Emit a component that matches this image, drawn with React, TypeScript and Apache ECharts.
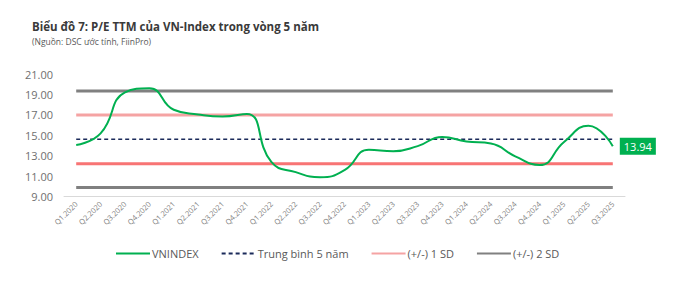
import React, { useEffect, useRef } from "react";
import * as echarts from "echarts";

const categories = [
  "Q1.2020", "Q2.2020", "Q3.2020", "Q4.2020",
  "Q1.2021", "Q2.2021", "Q3.2021", "Q4.2021",
  "Q1.2022", "Q2.2022", "Q3.2022", "Q4.2022",
  "Q1.2023", "Q2.2023", "Q3.2023", "Q4.2023",
  "Q1.2024", "Q2.2024", "Q3.2024", "Q4.2024",
  "Q1.2025", "Q2.2025", "Q3.2025",
];

const vnindex = [
  14.05, 15.2, 19.2, 19.6,
  17.5, 17.05, 16.85, 17.1,
  12.4, 11.4, 10.9, 11.6,
  13.6, 13.45, 13.95, 14.85,
  14.4, 14.2, 12.95, 12.1,
  14.35, 15.95, 13.94,
];

const MEAN_5Y = 14.62;
const SD1_UPPER = 17.0;
const SD1_LOWER = 12.23;
const SD2_UPPER = 19.33;
const SD2_LOWER = 9.9;

const yTicks = { min: 9, max: 21, interval: 2 };

const FONT = "'Open Sans', 'Noto Sans', sans-serif";

export default function App() {
  const ref = useRef<HTMLDivElement>(null);

  useEffect(() => {
    document.body.style.margin = "0";
    if (!ref.current) return;
    const chart = echarts.init(ref.current, undefined, { renderer: "svg" });
    const level = (v: number) => categories.map(() => v);

    chart.setOption({
      animation: false,
      backgroundColor: "#ffffff",
      textStyle: { fontFamily: FONT },
      title: {
        text: "Biểu đồ 7: P/E TTM của VN-Index trong vòng 5 năm",
        subtext: "(Nguồn: DSC ước tính, FiinPro)",
        left: 27,
        top: 15,
        itemGap: 5,
        textStyle: { fontFamily: FONT, fontSize: 11.5, fontWeight: "bold", color: "#3a3a3a" },
        subtextStyle: { fontFamily: FONT, fontSize: 8.5, color: "#595959" },
      },
      legend: {
        left: 110,
        top: 243,
        itemWidth: 34,
        itemHeight: 14,
        itemGap: 22,
        itemStyle: { opacity: 0 },
        data: ["VNINDEX", "Trung bình 5 năm", "(+/-) 1 SD", "(+/-) 2 SD"],
        textStyle: { fontFamily: FONT, fontSize: 11, color: "#595959", padding: [0, 0, 0, -3] },
      },
      grid: { left: 64, right: 51, top: 74, bottom: 87.3, containLabel: false },
      xAxis: {
        type: "category",
        data: categories,
        boundaryGap: true,
        axisLine: { show: true, lineStyle: { color: "#d9d9d9", width: 1 } },
        axisTick: { show: false },
        axisLabel: { rotate: 45, fontSize: 7.5, color: "#808080", margin: 6, interval: 0, fontFamily: FONT },
      },
      yAxis: {
        type: "value",
        min: yTicks.min,
        max: yTicks.max,
        interval: yTicks.interval,
        axisLine: { show: false },
        axisTick: { show: false },
        splitLine: { show: false },
        axisLabel: {
          fontSize: 11,
          color: "#6f6f6f",
          margin: 11,
          fontFamily: FONT,
          formatter: (v: number) => v.toFixed(2),
        },
      },
      series: [
        {
          name: "(+/-) 2 SD",
          type: "line",
          data: level(SD2_UPPER),
          symbol: "none",
          lineStyle: { color: "#808080", width: 3 },
          itemStyle: { color: "#808080" },
          z: 1,
        },
        {
          name: "2 SD lower",
          type: "line",
          data: level(SD2_LOWER),
          symbol: "none",
          lineStyle: { color: "#808080", width: 3 },
          itemStyle: { color: "#808080" },
          z: 1,
        },
        {
          name: "(+/-) 1 SD",
          type: "line",
          data: level(SD1_UPPER),
          symbol: "none",
          lineStyle: { color: "#f5a3a3", width: 3 },
          itemStyle: { color: "#f5a3a3" },
          z: 1,
        },
        {
          name: "1 SD lower",
          type: "line",
          data: level(SD1_LOWER),
          symbol: "none",
          lineStyle: { color: "#f87474", width: 3 },
          itemStyle: { color: "#f87474" },
          z: 1,
        },
        {
          name: "Trung bình 5 năm",
          type: "line",
          data: level(MEAN_5Y),
          symbol: "none",
          lineStyle: { color: "#1b2a5a", width: 1.6, type: [4, 3] },
          itemStyle: { color: "#1b2a5a" },
          z: 2,
        },
        {
          name: "VNINDEX",
          type: "line",
          data: vnindex,
          symbol: "none",
          smooth: 0.5,
          lineStyle: { color: "#00b050", width: 2 },
          itemStyle: { color: "#00b050" },
          z: 3,
          endLabel: {
            show: true,
            formatter: (p: any) => Number(p.value).toFixed(2),
            backgroundColor: "#00b050",
            color: "#ffffff",
            fontSize: 11,
            fontFamily: FONT,
            padding: [3, 4, 3, 4],
            distance: 7,
          },
        },
      ],
    });

    return () => chart.dispose();
  }, []);

  return <div ref={ref} style={{ width: 676, height: 284 }} />;
}
